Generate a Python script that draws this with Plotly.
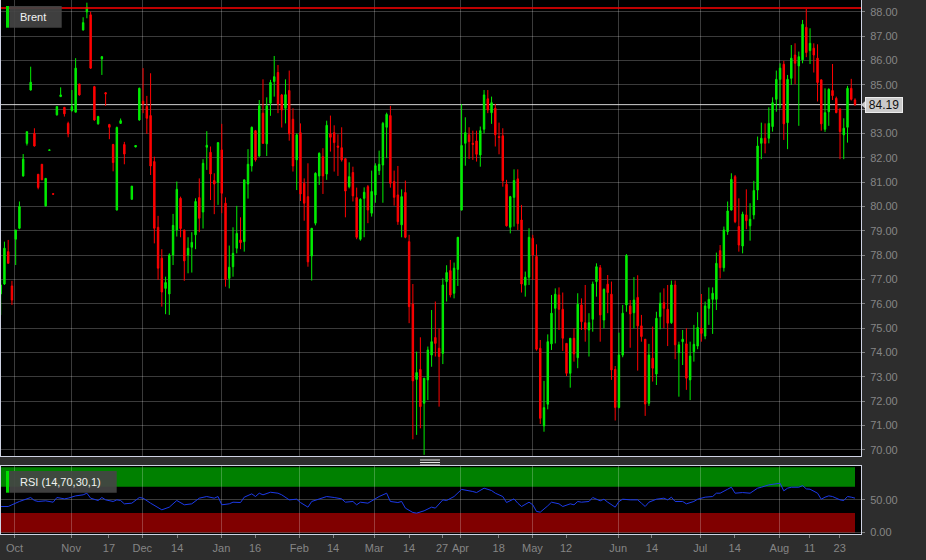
import plotly.graph_objects as go

# ---------------- data ----------------
instrument = "Brent"
rsi_title = "RSI (14,70,30,1)"
last_price = 84.19
marker_level = 88.16

opens = [76.41, 76.82, 78.15, 76.74, 78.66, 79.11, 81.26, 82.60, 84.79, 83.01,
         81.33, 81.74, 80.03, 82.31, 80.53, 83.77, 84.52, 84.08, 83.42, 83.95,
         83.88, 85.04, 87.26, 88.00, 87.88, 84.93, 83.40, 86.07, 84.68, 83.37,
         82.55, 79.86, 83.42, 82.55, None, 80.30, 82.45, 83.56, 84.33, 84.11,
         83.74, 81.85, 79.15, 77.88, 76.64, 76.41, 78.01, 79.04, 80.34, 79.04,
         78.01, 78.33, 78.84, 80.37, 79.78, 82.44, 82.23, 81.07, 81.00, 82.33,
         80.14, 77.05, 77.53, 78.29, 78.63, 78.56, 80.93, 81.67, 83.12, 82.08,
         83.84, 82.58, 84.25, 85.14, 85.51, 84.59, 84.04, 84.77, 83.59, 81.92,
         83.04, 80.96, 80.41, 77.97, 79.32, 81.26, 82.05, 81.34, 82.99, 83.04,
         82.49, 82.42, 81.97, 80.82, 81.40, 80.37, 78.66, 80.34, 80.82, 79.73,
         80.48, 81.48, 81.71, 83.26, 83.74, 81.03, 80.48, 79.25, 80.58, 78.56,
         76.00, 72.90, 73.31, 71.92, 72.88, 73.90, 74.62, 74.18, 73.97, 76.92,
         77.37, 76.44, 77.42, 79.86, 82.60, 82.95, 82.60, 82.70, 82.12, 83.18,
         84.43, 83.86, 84.04, 82.88, 82.91, 80.92, 79.15, 80.38, 81.14, 79.45,
         76.77, 77.10, 78.70, 77.95, 74.18, 70.99, 71.88, 74.36, 75.82, 76.37,
         75.78, 74.38, 73.15, 74.59, 73.79, 75.96, 75.23, 74.93, 75.37, 76.92,
         77.49, 75.34, 76.81, 76.40, 73.31, 71.75, 73.90, 75.96, 75.92, 75.64,
         76.27, 75.10, 74.55, 71.92, 73.77, 73.12, 75.48, 76.05, 75.78, 75.23,
         76.78, 74.00, 74.45, 74.36, 72.88, 74.04, 74.27, 75.00, 74.68, 75.82,
         76.19, 76.19, 78.19, 77.49, 78.97, 79.86, 81.23, 79.18, 78.38, 79.66,
         79.21, 79.66, 80.68, 82.60, 82.81, 82.81, 83.29, 84.41, 85.23, 85.85,
         83.45, 85.27, 86.23, 85.78, 86.03, 87.37, 86.41, 86.51, 86.10, 85.21,
         83.18, 83.90, 84.77, 84.45, 84.00, 82.95, 83.26, 84.86, 84.38]

highs = [76.99, 78.56, 78.63, 76.95, 79.04, 80.21, 82.16, 83.08, 85.75, 83.22,
         81.33, 81.74, 81.16, 82.33, 80.53, 84.11, 84.90, 84.08, 83.49, 84.79,
         86.10, 85.04, 87.78, 88.38, 88.01, 84.96, 83.73, 86.19, 84.71, 83.40,
         82.58, 83.29, 83.62, 82.66, None, 80.85, 82.52, 84.89, 85.69, 84.55,
         85.48, 82.05, 79.62, 78.25, 77.12, 78.08, 79.70, 81.03, 80.41, 79.04,
         78.74, 78.95, 80.34, 81.16, 81.95, 83.10, 82.47, 81.37, 82.63, 83.40,
         80.38, 78.40, 79.15, 80.03, 79.56, 81.10, 82.36, 83.29, 83.15, 84.38,
         85.23, 84.49, 85.21, 86.19, 85.82, 84.63, 85.23, 85.59, 84.04, 83.01,
         83.42, 81.16, 81.78, 79.11, 81.41, 82.23, 82.40, 83.53, 83.74, 83.34,
         82.97, 83.26, 81.97, 81.82, 81.64, 80.78, 80.34, 80.79, 80.89, 81.48,
         81.78, 82.30, 83.48, 83.86, 84.14, 81.48, 81.67, 80.71, 81.07, 78.84,
         76.82, 74.04, 74.63, 72.95, 74.25, 75.75, 76.10, 75.00, 77.05, 77.59,
         77.81, 77.70, 78.74, 84.21, 83.67, 83.26, 83.12, 83.12, 83.29, 84.79,
         84.79, 84.52, 84.22, 83.45, 83.22, 81.10, 80.44, 81.53, 81.53, 80.07,
         77.33, 79.11, 78.84, 78.45, 74.52, 72.84, 74.75, 76.37, 76.64, 76.68,
         76.47, 74.38, 74.59, 75.00, 76.44, 76.23, 76.78, 75.62, 76.92, 77.67,
         77.60, 76.64, 77.19, 76.92, 73.45, 74.82, 75.96, 78.05, 76.16, 77.10,
         77.18, 75.55, 74.55, 74.36, 75.07, 75.68, 76.47, 76.64, 76.78, 76.96,
         76.96, 74.45, 74.93, 75.00, 74.45, 75.14, 75.66, 76.41, 76.10, 76.68,
         76.68, 78.11, 78.42, 79.18, 80.21, 81.37, 81.30, 80.34, 79.79, 80.71,
         80.14, 81.06, 82.88, 83.45, 83.42, 84.08, 84.49, 85.59, 85.89, 85.99,
         85.41, 86.64, 86.71, 86.37, 87.67, 88.12, 87.33, 86.71, 86.67, 85.21,
         84.86, 84.86, 85.86, 84.52, 84.04, 83.63, 84.96, 85.25, 84.45]

lows = [75.55, 76.78, 77.67, 75.96, 77.60, 79.07, 81.23, 82.51, 84.77, 82.47,
        80.71, 81.10, 80.00, 82.31, 80.51, 83.74, 84.52, 83.70, 82.85, 83.90,
        83.88, 84.56, 87.23, 87.74, 85.66, 83.53, 83.37, 85.41, 84.14, 82.77,
        81.45, 79.84, 83.41, 81.74, None, 80.29, 82.44, 83.53, 83.84, 82.99,
        81.30, 78.49, 76.99, 75.89, 75.58, 75.55, 77.60, 78.77, 78.74, 76.95,
        77.26, 77.29, 78.25, 78.95, 79.10, 81.51, 80.27, 79.69, 80.07, 79.73,
        76.71, 76.64, 77.12, 78.08, 78.25, 78.15, 80.33, 81.44, 81.85, 82.05,
        82.58, 82.08, 83.73, 84.52, 83.84, 83.25, 83.42, 82.71, 81.44, 80.68,
        80.23, 79.42, 77.53, 76.96, 79.23, 80.89, 80.52, 81.10, 82.26, 81.44,
        81.26, 81.85, 79.56, 80.75, 80.21, 78.66, 78.60, 78.74, 79.32, 79.59,
        80.16, 81.30, 80.16, 81.99, 80.78, 80.04, 79.25, 78.74, 78.70, 75.21,
        70.44, 70.62, 70.89, 69.80, 72.05, 73.42, 73.84, 71.78, 73.53, 76.10,
        76.27, 76.23, 76.74, 79.84, 81.68, 81.96, 81.92, 81.85, 81.64, 83.01,
        83.84, 83.40, 82.47, 82.15, 80.82, 79.18, 78.90, 79.18, 79.04, 76.47,
        76.30, 76.78, 76.99, 74.08, 71.07, 70.75, 71.67, 74.11, 74.38, 74.93,
        74.07, 73.04, 72.56, 73.63, 73.36, 74.93, 74.45, 73.84, 74.86, 76.30,
        74.45, 75.00, 75.62, 72.88, 71.21, 71.71, 73.81, 75.68, 74.20, 75.00,
        73.26, 74.45, 71.40, 71.81, 72.81, 72.67, 74.96, 75.00, 74.27, 75.18,
        73.73, 72.19, 73.49, 72.47, 72.05, 73.63, 74.14, 74.45, 74.55, 75.14,
        74.77, 75.75, 77.05, 77.33, 78.84, 79.84, 79.32, 78.15, 78.08, 79.07,
        78.60, 79.48, 80.27, 81.95, 82.19, 82.60, 83.08, 83.90, 84.04, 82.74,
        82.36, 85.00, 85.03, 83.32, 85.89, 86.14, 85.86, 85.51, 84.32, 83.12,
        83.07, 83.32, 84.38, 83.84, 81.95, 81.95, 82.63, 84.36, 84.14]

closes = [76.78, 78.29, 77.67, 76.16, 79.04, 80.00, 81.95, 83.08, 85.11, 82.49,
          80.79, 81.10, 81.16, 82.33, 80.51, 84.11, 84.59, 83.81, 82.99, 84.11,
          85.69, 84.59, 87.56, 88.19, 85.69, 83.56, 83.70, 86.16, 84.63, 83.26,
          81.81, 83.25, 83.53, 82.16, None, 80.84, 82.51, 84.86, 84.22, 83.63,
          81.67, 79.11, 77.47, 76.49, 76.88, 78.01, 79.23, 80.71, 79.10, 77.77,
          78.29, 78.53, 80.21, 79.52, 81.78, 82.52, 81.34, 80.93, 82.63, 80.55,
          77.01, 77.51, 78.08, 78.90, 78.52, 81.10, 81.74, 83.26, 81.92, 84.14,
          82.60, 84.14, 85.10, 85.34, 84.22, 83.97, 84.60, 82.99, 81.67, 82.95,
          80.52, 80.14, 77.73, 79.11, 81.37, 82.19, 81.26, 83.34, 82.85, 82.63,
          82.44, 81.92, 80.64, 81.23, 80.44, 78.74, 80.30, 80.59, 79.86, 80.62,
          81.68, 81.74, 83.42, 83.79, 80.96, 80.38, 79.38, 80.41, 78.74, 75.89,
          72.84, 73.18, 71.78, 72.95, 74.11, 74.45, 74.38, 73.84, 76.78, 77.29,
          76.37, 77.47, 78.74, 82.51, 83.04, 82.67, 82.56, 82.15, 83.12, 84.59,
          83.97, 84.27, 82.95, 82.84, 81.06, 79.21, 80.41, 81.07, 79.30, 76.82,
          77.10, 78.74, 78.01, 74.14, 71.30, 71.74, 74.45, 75.62, 76.40, 75.78,
          74.59, 73.15, 74.59, 73.95, 75.99, 75.27, 74.96, 75.23, 76.82, 77.53,
          75.55, 76.60, 76.47, 73.29, 71.75, 73.90, 75.62, 77.99, 75.59, 76.16,
          75.10, 74.66, 71.89, 73.90, 73.36, 75.41, 76.03, 75.82, 75.21, 76.78,
          74.32, 74.32, 74.55, 72.95, 73.86, 74.34, 75.03, 74.79, 75.92, 76.19,
          76.44, 77.67, 77.49, 79.04, 79.82, 81.12, 79.38, 78.42, 79.69, 79.42,
          79.48, 80.66, 82.49, 82.81, 82.60, 83.42, 84.27, 85.23, 85.69, 83.40,
          85.23, 86.10, 85.89, 86.16, 87.49, 86.33, 86.71, 86.23, 85.10, 83.40,
          83.86, 84.82, 84.56, 83.86, 83.08, 83.22, 84.86, 84.41, 84.19]

rsi_index = [0, 2, 3, 5, 8, 9, 10, 12, 14, 15,
             17, 18, 20, 22, 23, 24, 26, 27, 28, 30,
             31, 32, 33, 35, 37, 38, 40, 42, 43, 45,
             47, 49, 51, 53, 55, 57, 58, 59, 61, 62,
             64, 65, 67, 68, 69, 70, 72, 74, 75, 77,
             79, 80, 82, 83, 85, 87, 89, 91, 92, 94,
             95, 96, 98, 100, 101, 103, 104, 106, 107, 108,
             110, 111, 113, 115, 116, 118, 119, 121, 123, 126,
             127, 129, 131, 132, 134, 135, 137, 138, 139, 141,
             142, 143, 144, 146, 147, 149, 150, 152, 153, 154,
             155, 157, 158, 160, 161, 162, 164, 165, 166, 168,
             170, 171, 172, 173, 175, 177, 178, 179, 180, 182,
             183, 185, 186, 188, 190, 191, 192, 194, 195, 196,
             198, 200, 202, 203, 205, 208, 209, 210, 211, 213,
             214, 215, 216, 218, 219, 220, 221, 222, 224, 225,
             226, 227, 228]
rsi_values = [39.8, 39.8, 42.4, 47.5, 53.6, 49.0, 47.5, 48.5, 46.4, 53.6,
              51.5, 52.6, 56.1, 57.7, 60.2, 52.6, 49.0, 53.6, 50.0, 47.5,
              50.0, 49.0, 43.9, 44.9, 53.6, 52.6, 44.9, 37.3, 34.7, 38.8,
              49.0, 42.4, 43.9, 52.6, 55.1, 52.6, 55.1, 42.4, 43.9, 46.4,
              45.9, 54.1, 59.2, 55.1, 60.2, 57.7, 61.7, 60.2, 57.7, 50.0,
              51.0, 45.9, 38.8, 47.5, 51.0, 55.1, 53.6, 51.5, 46.4, 47.5,
              42.4, 46.4, 44.9, 52.6, 55.1, 60.2, 47.5, 45.9, 47.5, 37.3,
              30.6, 29.6, 33.2, 38.8, 37.3, 50.0, 49.0, 55.1, 66.0, 62.8,
              61.2, 67.9, 64.3, 60.2, 55.1, 45.9, 51.5, 44.9, 39.8, 46.4,
              42.4, 32.2, 31.1, 40.8, 46.4, 43.9, 39.8, 43.9, 42.4, 47.5,
              46.4, 47.5, 53.6, 48.5, 51.0, 46.4, 38.8, 47.5, 51.0, 50.0,
              50.0, 44.9, 39.8, 46.4, 51.0, 52.6, 50.0, 54.1, 47.5, 47.5,
              43.9, 47.5, 51.0, 54.1, 55.1, 60.2, 60.2, 66.3, 69.4, 60.2,
              61.2, 60.2, 67.9, 69.4, 73.0, 75.5, 63.8, 67.9, 69.4, 69.4,
              71.9, 66.8, 66.3, 60.2, 51.0, 54.1, 56.1, 55.1, 50.0, 49.0,
              55.1, 54.1, 52.6]
rsi_upper = 70
rsi_lower = 30
rsi_max = 100
rsi_min = 0

tick_positions = [3.7, 18.8, 28.9, 37.8, 47.1, 58.9, 67.9, 79.7, 88.7, 99.7, 109.0, 117.8,
                  122.7, 132.9, 141.9, 150.9, 164.8, 173.8, 186.7, 195.9, 207.8, 215.9, 223.9]
tick_labels = ["Oct", "Nov", "17", "Dec", "14", "Jan", "16", "Feb", "14", "Mar", "14", "27",
               "Apr", "18", "May", "12", "Jun", "14", "Jul", "14", "Aug", "11", "23"]
month_positions = [3.63, 18.84, 37.79, 58.87, 79.69, 99.71, 122.66, 141.87, 164.83, 186.71, 207.79]
price_ticks = [70, 71, 72, 73, 74, 75, 76, 77, 78, 79, 80, 81, 82, 83, 84, 85, 86, 87, 88]
rsi_ticks = [0, 50]

# ---------------- figure ----------------
W, H = 926, 560
ML, MR, MT, MB = 1, 65, 0, 26
PW = W - ML - MR
PH = H - MT - MB


def px(x):
    return (x - ML) / PW


def py(y):
    return (H - MB - y) / PH


FONT = "Arial, Liberation Sans, sans-serif"
GRID = "rgba(255,255,255,0.23)"
BORDER = "#cfd3e3"
TICKFONT = dict(family=FONT, size=11, color="#858585")
UP = "#00ee00"
DOWN = "#ff0000"

xs = [i for i, o in enumerate(opens) if o is not None]

fig = go.Figure()
fig.add_trace(go.Candlestick(
    x=xs,
    open=[opens[i] for i in xs], high=[highs[i] for i in xs],
    low=[lows[i] for i in xs], close=[closes[i] for i in xs],
    increasing=dict(line=dict(color=UP, width=1), fillcolor=UP),
    decreasing=dict(line=dict(color=DOWN, width=1), fillcolor=DOWN),
    whiskerwidth=0, hoverinfo="skip", xaxis="x", yaxis="y", name=instrument))
fig.add_trace(go.Scatter(
    x=rsi_index, y=rsi_values, mode="lines",
    line=dict(color="#1c3ae8", width=1),
    hoverinfo="skip", xaxis="x2", yaxis="y2", name="RSI"))

xrange = [0.08, 229.6]
common_x = dict(range=xrange, showline=True, mirror=True, linecolor=BORDER, linewidth=1,
                zeroline=False, showgrid=False, fixedrange=True,
                minor=dict(tickvals=month_positions, showgrid=True, gridcolor=GRID,
                           gridwidth=1, ticks=""))

fig.update_layout(
    width=W, height=H,
    margin=dict(l=ML, r=MR, t=MT, b=MB),
    paper_bgcolor="#2d2d2d", plot_bgcolor="#000000",
    showlegend=False, hovermode=False, boxgap=0.45,
    font=dict(family=FONT, size=11, color="#858585"),
    xaxis=dict(domain=[0, 1], anchor="y", showticklabels=False, ticks="",
               tickvals=tick_positions, rangeslider=dict(visible=False), **common_x),
    xaxis2=dict(domain=[0, 1], anchor="y2", matches="x", tickvals=tick_positions,
                ticktext=tick_labels, ticks="outside", ticklen=3, tickcolor="#808080",
                tickfont=TICKFONT, ticklabelstandoff=1, **common_x),
    yaxis=dict(domain=[py(456.3), 1], anchor="x", side="right", range=[69.74, 88.49],
               tickvals=price_ticks, ticktext=[f"{v:.2f}" for v in price_ticks],
               showgrid=True, gridcolor=GRID, gridwidth=1, zeroline=False,
               ticks="outside", ticklen=3, tickcolor="#808080", tickfont=TICKFONT,
               ticklabelstandoff=3, showline=True, mirror=True, linecolor=BORDER,
               linewidth=1, fixedrange=True),
    yaxis2=dict(domain=[0, py(465.7)], anchor="x2", side="right", range=[-2.4, 102.4],
                tickvals=rsi_ticks, ticktext=[f"{v:.2f}" for v in rsi_ticks],
                showgrid=True, gridcolor=GRID, gridwidth=1, zeroline=False,
                ticks="outside", ticklen=3, tickcolor="#808080", tickfont=TICKFONT,
                ticklabelstandoff=3, showline=True, mirror=True, linecolor=BORDER,
                linewidth=1, fixedrange=True),
)

shapes = []
# RSI overbought / oversold bands
shapes.append(dict(type="rect", xref="x2", yref="y2", x0=xs[0], x1=xs[-1],
                   y0=rsi_upper, y1=rsi_max, fillcolor="#008000", line=dict(width=0),
                   layer="below"))
shapes.append(dict(type="rect", xref="x2", yref="y2", x0=xs[0], x1=xs[-1],
                   y0=rsi_min, y1=rsi_lower, fillcolor="#800000", line=dict(width=0),
                   layer="below"))
# last price line and level line
shapes.append(dict(type="line", xref="x domain", yref="y", x0=0, x1=1,
                   y0=last_price, y1=last_price, line=dict(color="#d2d2d2", width=1),
                   layer="below"))
shapes.append(dict(type="line", xref="x domain", yref="y", x0=0, x1=1,
                   y0=marker_level, y1=marker_level, line=dict(color="#ff0000", width=1.5),
                   layer="above"))
# arrow of price label
dy = 4 / 24.33
shapes.append(dict(type="path", xref="paper", yref="y",
                   path=f"M {px(861)},{last_price} L {px(865.5)},{last_price + dy} "
                        f"L {px(865.5)},{last_price - dy} Z",
                   fillcolor="#cacaca", line=dict(width=0), layer="above"))
# legend boxes
for (y0, y1, x1) in [(6, 27.7, 61.7), (471, 492.7, 116.7)]:
    shapes.append(dict(type="rect", xref="paper", yref="paper", x0=px(9.3), x1=px(x1),
                       y0=py(y1), y1=py(y0), fillcolor="rgba(68,68,68,0.92)",
                       line=dict(width=0), layer="above"))
    shapes.append(dict(type="rect", xref="paper", yref="paper", x0=px(6), x1=px(9),
                       y0=py(y1), y1=py(y0), fillcolor="#00e000",
                       line=dict(width=0), layer="above"))
# splitter handle
for yy in (460, 462.5, 465):
    shapes.append(dict(type="line", xref="paper", yref="paper", x0=px(420), x1=px(440),
                       y0=py(yy), y1=py(yy), line=dict(color="#e6e6e6", width=1),
                       layer="above"))
fig.update_layout(shapes=shapes)

fig.add_annotation(x=px(18), y=py(17), xref="paper", yref="paper", xanchor="left",
                   yanchor="middle", text=instrument, showarrow=False,
                   font=dict(family=FONT, size=11, color="#f2f2f2"))
fig.add_annotation(x=px(18.3), y=py(482), xref="paper", yref="paper", xanchor="left",
                   yanchor="middle", text=rsi_title, showarrow=False,
                   font=dict(family=FONT, size=11, color="#f2f2f2"))
fig.add_annotation(x=1, y=last_price, xref="paper", yref="y", xanchor="left",
                   yanchor="middle", xshift=4, text=f"{last_price:.2f}", showarrow=False,
                   font=dict(family=FONT, size=12, color="#111111"),
                   bgcolor="#cacaca", bordercolor="#ececec", borderwidth=1, borderpad=1,
                   width=34, height=12)

fig.write_html("out.html", config={"displayModeBar": False},
               post_script="document.body.style.margin='0px';")
